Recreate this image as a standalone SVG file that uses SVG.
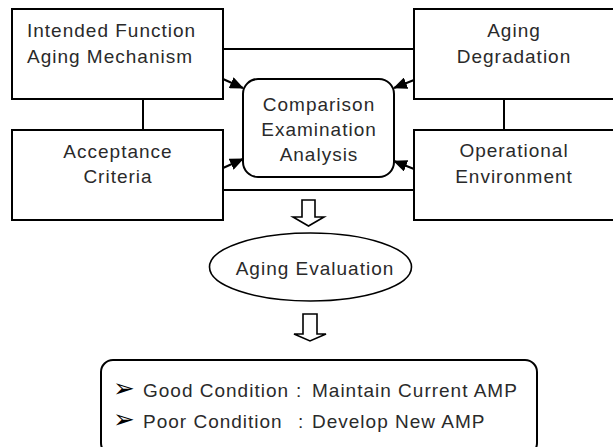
<svg xmlns="http://www.w3.org/2000/svg" width="613" height="447" viewBox="0 0 613 447">
<style>
.box{fill:#fff;stroke:#000;stroke-width:2}
.ln{fill:none;stroke:#000;stroke-width:2}
.t{font-family:"Liberation Sans",Arial,sans-serif;font-size:19px;letter-spacing:1px;fill:#2a2a2a}
.c{text-anchor:middle}
.bul{font-family:"DejaVu Sans",sans-serif;font-size:26px;fill:#000}
.hol{fill:#fff;stroke:#000;stroke-width:1.6;stroke-linejoin:miter}
</style>
<defs>
<marker id="ah" viewBox="0 0 14 12" refX="13" refY="6" markerWidth="14" markerHeight="12" markerUnits="userSpaceOnUse" orient="auto">
<path d="M0,0 L14,6 L0,12 Z" fill="#000"/>
</marker>
</defs>
<rect width="613" height="447" fill="#fff"/>
<g id="connectors">
<line class="ln" x1="223" y1="49" x2="414" y2="49"/>
<line class="ln" x1="223" y1="190" x2="414" y2="190"/>
<line class="ln" x1="143" y1="99" x2="143" y2="130"/>
<line class="ln" x1="504" y1="99" x2="504" y2="130"/>
<line class="ln" x1="223" y1="79" x2="243" y2="88" marker-end="url(#ah)"/>
<line class="ln" x1="223" y1="168" x2="243" y2="159" marker-end="url(#ah)"/>
<line class="ln" x1="414" y1="80" x2="394" y2="88" marker-end="url(#ah)"/>
<line class="ln" x1="414" y1="169" x2="394" y2="161" marker-end="url(#ah)"/>
<path class="hol" d="M302,200 L315,200 L315,217 L324,217 L308.5,226 L293,217 L302,217 Z"/>
<path class="hol" d="M303,314 L317,314 L317,334 L326,334 L310,341 L294,334 L303,334 Z"/>
</g>
<g id="intended">
<rect class="box" x="12" y="9" width="211" height="90"/>
<text class="t" x="27" y="37">Intended Function</text>
<text class="t" x="27" y="63">Aging Mechanism</text>
</g>
<g id="acceptance">
<rect class="box" x="12" y="130" width="211" height="90"/>
<text class="t c" x="118" y="158">Acceptance</text>
<text class="t c" x="118" y="183">Criteria</text>
</g>
<g id="aging-degradation">
<rect class="box" x="414" y="9" width="210" height="90"/>
<text class="t c" x="514" y="37">Aging</text>
<text class="t c" x="514" y="63">Degradation</text>
</g>
<g id="operational">
<rect class="box" x="414" y="130" width="210" height="90"/>
<text class="t c" x="514" y="157">Operational</text>
<text class="t c" x="514" y="183">Environment</text>
</g>
<g id="comparison">
<rect class="box" x="243" y="79" width="151" height="98" rx="15"/>
<text class="t c" x="319" y="111">Comparison</text>
<text class="t c" x="319" y="136">Examination</text>
<text class="t c" x="319" y="161">Analysis</text>
</g>
<g id="evaluation">
<ellipse cx="310.5" cy="267" rx="101" ry="34" fill="#fff" stroke="#000" stroke-width="1.6"/>
<text class="t c" x="315" y="275">Aging Evaluation</text>
</g>
<g id="result">
<rect class="box" x="101" y="360" width="436" height="95" rx="12"/>
<text class="bul" x="113" y="397">➢</text>
<text class="bul" x="113" y="428">➢</text>
<text class="t" x="143" y="397">Good Condition</text>
<text class="t" x="296" y="397">:</text>
<text class="t" x="312" y="397">Maintain Current AMP</text>
<text class="t" x="143" y="428">Poor Condition</text>
<text class="t" x="298" y="428">:</text>
<text class="t" x="312" y="428">Develop New AMP</text>
</g>
</svg>
